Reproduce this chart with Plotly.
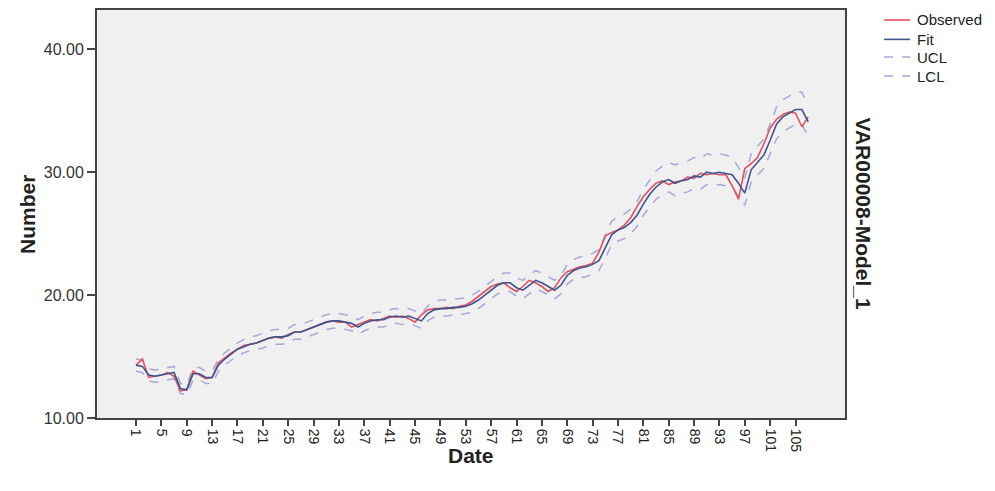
import plotly.graph_objects as go

dates = list(range(1, 108))

observed = [14.3, 14.8, 13.3, 13.4, 13.5, 13.7, 13.4, 12.2, 12.3, 13.8,
            13.5, 13.2, 13.3, 14.5, 14.9, 15.3, 15.6, 15.9, 16.0, 16.1,
            16.3, 16.5, 16.6, 16.5, 16.8, 17.0, 17.0, 17.2, 17.4, 17.6,
            17.8, 17.9, 17.8, 17.8, 17.4, 17.6, 17.8, 18.0, 17.9, 18.1,
            18.3, 18.2, 18.3, 18.1, 17.8, 18.4, 18.8, 18.9, 18.9, 19.0,
            18.9, 19.1, 19.2, 19.5, 19.9, 20.3, 20.7, 20.9, 21.0, 20.6,
            20.3, 20.7, 21.2, 21.0, 20.7, 20.3, 20.6, 21.4, 21.9, 22.1,
            22.3, 22.4, 22.6, 23.5, 24.8, 25.1, 25.3, 25.7, 26.3, 27.2,
            28.0, 28.6, 29.1, 29.3, 29.0, 29.2, 29.3, 29.6, 29.5, 29.9,
            29.8, 29.9, 29.8, 29.8, 28.9, 27.8, 30.3, 30.7, 31.2, 32.3,
            33.6, 34.3, 34.7, 34.9, 34.8, 33.7, 34.5]

fit = [14.3, 14.2, 13.5, 13.4, 13.5, 13.6, 13.7, 12.4, 12.3, 13.6,
       13.6, 13.3, 13.3, 14.3, 14.8, 15.2, 15.6, 15.8, 16.0, 16.1,
       16.3, 16.5, 16.6, 16.6, 16.7, 17.0, 17.0, 17.2, 17.4, 17.6,
       17.8, 17.9, 17.9, 17.8, 17.7, 17.4, 17.7, 17.9, 18.0, 18.0,
       18.2, 18.3, 18.2, 18.3, 18.1, 17.9, 18.5, 18.8, 18.9, 18.9,
       19.0, 19.0, 19.1, 19.3, 19.6, 20.0, 20.4, 20.8, 21.0, 21.0,
       20.6, 20.4, 20.8, 21.2, 21.0, 20.7, 20.4, 20.8, 21.6, 22.0,
       22.2, 22.3, 22.5, 22.8, 23.8, 24.9, 25.3, 25.5, 25.9, 26.5,
       27.4, 28.2, 28.8, 29.2, 29.4, 29.1, 29.3, 29.4, 29.7, 29.6,
       30.0, 29.9, 30.0, 29.9, 29.8, 29.1, 28.3, 30.2, 30.8, 31.4,
       32.6, 33.9, 34.5, 34.8, 35.1, 35.1, 34.1]

ucl = [14.8, 14.7, 14.0, 13.9, 14.0, 14.1, 14.2, 12.8, 12.7, 14.1,
       14.1, 13.8, 13.8, 14.8, 15.3, 15.7, 16.1, 16.4, 16.6, 16.7,
       16.9, 17.1, 17.2, 17.2, 17.3, 17.6, 17.6, 17.8, 18.0, 18.2,
       18.4, 18.5, 18.5, 18.4, 18.3, 18.0, 18.3, 18.5, 18.6, 18.6,
       18.8, 18.9, 18.8, 18.9, 18.7, 18.5, 19.1, 19.5, 19.6, 19.6,
       19.7, 19.7, 19.8, 20.0, 20.3, 20.7, 21.1, 21.5, 21.8, 21.8,
       21.4, 21.2, 21.6, 22.0, 21.8, 21.5, 21.2, 21.6, 22.5, 22.9,
       23.1, 23.2, 23.4, 23.7, 24.8, 26.0, 26.4, 26.6, 27.0, 27.6,
       28.6, 29.4, 30.1, 30.5, 30.8, 30.6, 30.8, 30.9, 31.2, 31.1,
       31.5, 31.4, 31.5, 31.4, 31.2, 30.4, 29.5, 31.5, 32.1, 32.7,
       33.9, 35.3, 35.9, 36.2, 36.5, 36.5, 35.5]

lcl = [13.8, 13.7, 13.0, 12.9, 13.0, 13.1, 13.2, 12.0, 11.9, 13.1,
       13.1, 12.8, 12.8, 13.8, 14.3, 14.7, 15.1, 15.3, 15.5, 15.6,
       15.7, 15.9, 16.0, 16.0, 16.1, 16.4, 16.4, 16.6, 16.8, 17.0,
       17.2, 17.3, 17.3, 17.2, 17.1, 16.8, 17.1, 17.3, 17.4, 17.4,
       17.6, 17.7, 17.6, 17.7, 17.5, 17.3, 17.9, 18.2, 18.3, 18.3,
       18.4, 18.4, 18.5, 18.6, 18.9, 19.3, 19.7, 20.1, 20.3, 20.3,
       19.9, 19.7, 20.1, 20.5, 20.3, 20.0, 19.7, 20.1, 20.9, 21.3,
       21.4, 21.5, 21.7, 22.0, 23.0, 24.1, 24.4, 24.6, 25.0, 25.6,
       26.5, 27.2, 27.8, 28.2, 28.4, 28.1, 28.3, 28.4, 28.7, 28.6,
       29.0, 28.9, 29.0, 28.9, 28.8, 28.1, 27.3, 29.2, 29.8, 30.3,
       31.5, 32.7, 33.3, 33.6, 33.9, 33.9, 32.9]

tick_vals = list(range(1, 108, 4))
tick_text = [str(v) for v in tick_vals]
y_ticks = [10, 20, 30, 40]
y_text = ["10.00", "20.00", "30.00", "40.00"]

series_names = ["Observed", "Fit", "UCL", "LCL"]

RED = "#e4505e"
BLUE = "#3d5590"
BAND = "#a6a8d8"
AXIS = "#444"
styles = {
    "Observed": dict(color=RED, width=1.6),
    "Fit": dict(color=BLUE, width=1.6),
    "UCL": dict(color=BAND, width=1.5, dash="dash"),
    "LCL": dict(color=BAND, width=1.5, dash="dash"),
}
values = {"Observed": observed, "Fit": fit, "UCL": ucl, "LCL": lcl}

fig = go.Figure()
for name in ["UCL", "LCL", "Observed", "Fit"]:
    fig.add_trace(go.Scatter(x=dates, y=values[name], name=name, mode="lines",
                             line=styles[name], showlegend=False))

# manual legend (positions in plot-area fractions)
shapes = []
annotations = []
leg_rows = [0.9755, 0.928, 0.8848, 0.8382]
for name, yy in zip(series_names, leg_rows):
    st = styles[name]
    shapes.append(dict(type="line", xref="paper", yref="paper",
                       x0=1.0522, x1=1.0870, y0=yy, y1=yy,
                       line=dict(color=st["color"], width=st["width"],
                                 dash=st.get("dash", "solid"))))
    annotations.append(dict(text=name, xref="paper", yref="paper", x=1.0936, y=yy,
                            xanchor="left", yanchor="middle", showarrow=False,
                            font=dict(size=15, color="#222")))

annotations += [
    dict(text="<b>VAR00008-Model_1</b>", xref="paper", yref="paper",
         x=1.0, y=0.5, xanchor="left", yanchor="middle", xshift=5,
         textangle=90, showarrow=False, font=dict(size=21, color="#222")),
    dict(text="<b>Date</b>", xref="paper", yref="paper",
         x=0.5, y=-0.0907, xanchor="center", yanchor="middle",
         showarrow=False, font=dict(size=21, color="#222")),
    dict(text="<b>Number</b>", xref="paper", yref="paper",
         x=-0.0936, y=0.5, xanchor="center", yanchor="middle",
         textangle=-90, showarrow=False, font=dict(size=21, color="#222")),
]

fig.update_layout(
    width=987, height=483,
    margin=dict(l=89, r=150, t=2, b=73, autoexpand=False),
    paper_bgcolor="white",
    plot_bgcolor="#f0f0f0",
    showlegend=False,
    font=dict(family="Liberation Sans, Arial, sans-serif", color="#222"),
    xaxis=dict(range=[-5.15, 112.8], tickmode="array", tickvals=tick_vals, ticktext=tick_text,
               tickangle=90, ticks="outside", ticklen=6, tickcolor=AXIS, tickwidth=1.5,
               showgrid=False, zeroline=False, showline=True, mirror=True,
               linecolor=AXIS, linewidth=2,
               tickfont=dict(size=14, color="#222")),
    yaxis=dict(range=[10, 43.2], tickmode="array", tickvals=y_ticks, ticktext=y_text,
               ticks="outside", ticklen=8, tickcolor=AXIS, tickwidth=1.5,
               showgrid=False, zeroline=False, showline=True, mirror=True,
               linecolor=AXIS, linewidth=2,
               tickfont=dict(size=16, color="#333")),
    shapes=shapes,
    annotations=annotations,
)

fig.write_html("out.html")
